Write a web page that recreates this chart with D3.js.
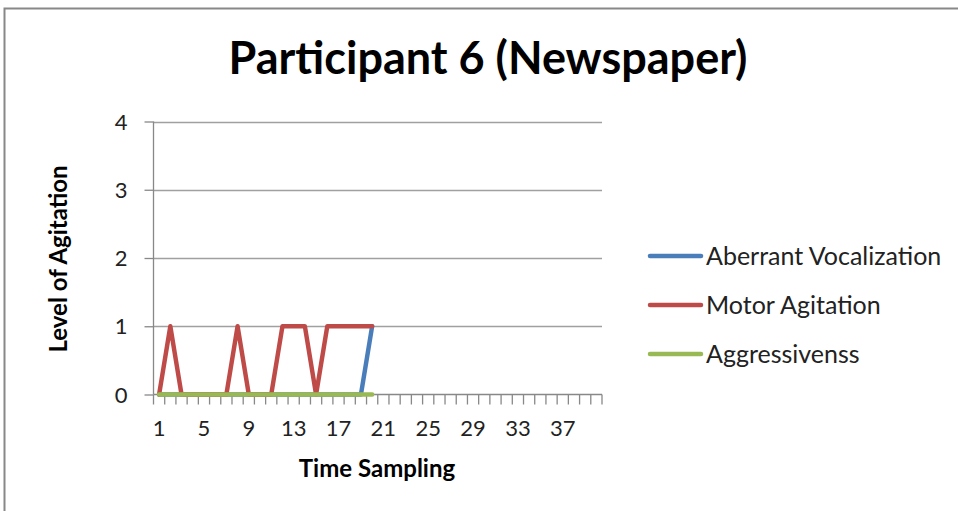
<!DOCTYPE html>
<html><head><meta charset="utf-8">
<script src="https://cdn.jsdelivr.net/npm/d3@7"></script>
<style>body{margin:0;background:#fff}svg{display:block}text{font-family:Lato,"Open Sans",sans-serif}</style>
</head><body>
<svg id="c" width="958" height="511"></svg>
<script>
const categories = d3.range(1, 41);
const tickLabels = [1,5,9,13,17,21,25,29,33,37];
const yTicks = [0,1,2,3,4];
const seriesNames = ["Aberrant Vocalization","Motor Agitation","Aggressivenss"];
const seriesColors = ["#4A7EBB","#BE4B48","#98B954"];
const aberrant = [0,0,0,0,0,0,0,0,0,0,0,0,0,0,0,0,0,0,0,1];
const motor    = [0,1,0,0,0,0,0,1,0,0,0,1,1,1,0,1,1,1,1,1];
const aggress  = [0,0,0,0,0,0,0,0,0,0,0,0,0,0,0,0,0,0,0,0];
const seriesValues = [aberrant, motor, aggress];

const svg = d3.select("#c");
// chart border
svg.append("path").attr("d","M4.5,511 V8.5 H958").attr("fill","none").attr("stroke","#888").attr("stroke-width",2);

const x0 = 153.5, x1 = 602, yTop = 121.5, yBot = 394.5;
const xb = d3.scaleBand().domain(categories).range([x0, x1]);
const y = d3.scaleLinear().domain([0,4]).range([yBot, yTop]);

// gridlines
svg.append("g").selectAll("line").data(yTicks.filter(d=>d>0)).join("line")
  .attr("x1",x0).attr("x2",x1).attr("y1",d=>Math.round(y(d))+0.5).attr("y2",d=>Math.round(y(d))+0.5)
  .attr("stroke","#A0A0A0").attr("stroke-width",1.3);

// y axis
const ya = svg.append("g").attr("transform",`translate(${x0},0)`)
  .call(d3.axisLeft(y).tickValues(yTicks).tickSize(9).tickPadding(17).tickFormat(d3.format("d")));
ya.select(".domain").attr("stroke","#888").attr("stroke-width",1.3).attr("d",`M-0,${yTop}V${yBot}`);
ya.selectAll(".tick line").attr("stroke","#888").attr("stroke-width",1.3);
ya.selectAll("text").attr("font-size",22).attr("fill","#222").attr("dy","0.35em").style("font-family","Lato");

// x axis: ticks between categories
const xa = svg.append("g").attr("transform",`translate(0,${yBot})`);
xa.append("line").attr("x1",x0).attr("x2",x1).attr("y1",0).attr("y2",0).attr("stroke","#888").attr("stroke-width",1.3);
const bounds = categories.map(c=>xb(c)).concat([x1]);
xa.selectAll("line.t").data(bounds).join("line").attr("class","t")
  .attr("x1",d=>d).attr("x2",d=>d).attr("y1",0).attr("y2",10).attr("stroke","#888").attr("stroke-width",1.3);
xa.selectAll("text").data(tickLabels).join("text")
  .attr("x",d=>xb(d)+xb.bandwidth()/2).attr("y",41).attr("text-anchor","middle")
  .attr("font-size",22).attr("fill","#222").text(d=>d);

// lines
const line = d3.line().x((d,i)=>xb(categories[i])+xb.bandwidth()/2).y(d=>y(d));
seriesValues.forEach((vals,k)=>{
  svg.append("path").datum(vals).attr("d",line).attr("fill","none")
    .attr("stroke",seriesColors[k]).attr("stroke-width",4.5).attr("stroke-linejoin","round").attr("stroke-linecap","round");
});

// title
svg.append("text").attr("x",488).attr("y",74).attr("text-anchor","middle")
  .attr("font-size",45).attr("font-weight","bold").attr("fill","#000").text("Participant 6 (Newspaper)");
// axis titles
svg.append("text").attr("x",377).attr("y",477).attr("text-anchor","middle")
  .attr("font-size",24).attr("font-weight","bold").attr("fill","#000").text("Time Sampling");
svg.append("text").attr("transform","translate(67,259) rotate(-90)").attr("text-anchor","middle")
  .attr("font-size",24).attr("font-weight","bold").attr("fill","#000").text("Level of Agitation");

// legend
const lg = svg.append("g");
const ly = [256,305,354];
seriesNames.forEach((n,k)=>{
  lg.append("line").attr("x1",650).attr("x2",701).attr("y1",ly[k]).attr("y2",ly[k])
    .attr("stroke",seriesColors[k]).attr("stroke-width",4.5).attr("stroke-linecap","round");
  lg.append("text").attr("x",706).attr("y",ly[k]).attr("dy","0.35em").attr("font-size",25)
    .attr("fill","#222").text(n);
});
</script>
</body></html>
